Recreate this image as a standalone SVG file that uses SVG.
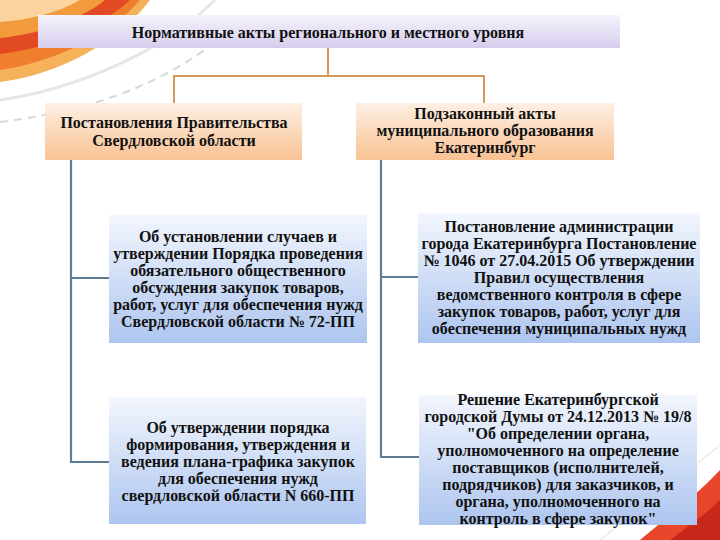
<svg xmlns="http://www.w3.org/2000/svg" width="720" height="540" viewBox="0 0 720 540">
<defs>
<linearGradient id="gLav" x1="0" y1="0" x2="0" y2="1"><stop offset="0" stop-color="#f6f3fb"/><stop offset="1" stop-color="#d6cdee"/></linearGradient>
<linearGradient id="gPeach" x1="0" y1="0" x2="0" y2="1"><stop offset="0" stop-color="#fdf0e4"/><stop offset="1" stop-color="#f9c293"/></linearGradient>
<linearGradient id="gBlue" x1="0" y1="0" x2="0" y2="1"><stop offset="0" stop-color="#f2f6fd"/><stop offset="1" stop-color="#adc5ef"/></linearGradient>
<style>
text{font-family:'Liberation Serif','Times New Roman','DejaVu Serif',serif;font-weight:700;font-size:16px;fill:#111;text-anchor:middle}
.oc{stroke:#d49a5c;stroke-width:2;fill:none}
.bc{stroke:#5f7d96;stroke-width:2.2;fill:none}
</style>
</defs>
<rect width="720" height="540" fill="#ffffff"/>
<g id="decor">
<path d="M0,0 L150,0 C120,40 60,75 0,82 Z" fill="#f6b25a"/>
<path d="M0,0 L140,0 C110,35 55,62 0,70 Z" fill="#ef7f2c"/>
<path d="M0,0 L130,0 C100,28 50,48 0,54 Z" fill="#e14a22"/>
<path d="M0,0 L105,0 C80,20 40,34 0,38 Z" fill="#f39a3c"/>
<path d="M0,0 L80,0 C60,12 30,20 0,22 Z" fill="#fbd39c"/>
<path d="M0,100 C70,90 160,55 215,0" stroke="#e6e6e6" stroke-width="3" fill="none"/>
<path d="M0,122 C80,112 160,90 230,30" stroke="#d8d8d8" stroke-width="2" stroke-dasharray="8 6" fill="none"/>
<path d="M640,540 C670,515 700,492 720,470 L720,540 Z" fill="#e8452a"/>
<path d="M670,540 C690,525 708,512 720,500 L720,540 Z" fill="#c8281a"/>
<path d="M600,540 C650,500 690,470 720,445" stroke="#eeeeee" stroke-width="2" fill="none"/>
</g>
<g id="connectors">
<path class="oc" d="M328,48 V76 M174,76 H484 M174,75 V103 M484,75 V103"/>
<path class="bc" d="M71,160 V462 H109 M71,278 H109"/>
<path class="bc" d="M381,160 V457 H419 M381,277 H418"/>
</g>
<g id="n0">
<rect x="38" y="15" width="582" height="33" fill="url(#gLav)"/>
<text x="328" y="38">Нормативные акты регионального и местного уровня</text>
</g>
<g id="n1">
<rect x="45" y="103" width="257" height="57" fill="url(#gPeach)"/>
<text x="174" y="128">Постановления Правительства</text>
<text x="174" y="146">Свердловской области</text>
</g>
<g id="n2">
<rect x="356" y="103" width="258" height="57" fill="url(#gPeach)"/>
<text x="485" y="119">Подзаконный акты</text>
<text x="485" y="136">муниципального образования</text>
<text x="485" y="153">Екатеринбург</text>
</g>
<g id="n3">
<rect x="109" y="215" width="258" height="128" fill="url(#gBlue)"/>
<text x="238" y="242">Об установлении случаев и</text>
<text x="238" y="259">утверждении Порядка проведения</text>
<text x="238" y="276">обязательного общественного</text>
<text x="238" y="293">обсуждения закупок товаров,</text>
<text x="238" y="310">работ, услуг для обеспечения нужд</text>
<text x="238" y="327">Свердловской области № 72-ПП</text>
</g>
<g id="n4">
<rect x="418" y="213" width="282" height="130" fill="url(#gBlue)"/>
<text x="559" y="232">Постановление администрации</text>
<text x="559" y="249">города Екатеринбурга Постановление</text>
<text x="559" y="266">№ 1046 от 27.04.2015 Об утверждении</text>
<text x="559" y="283">Правил осуществления</text>
<text x="559" y="300">ведомственного контроля в сфере</text>
<text x="559" y="317">закупок товаров, работ, услуг для</text>
<text x="559" y="334">обеспечения муниципальных нужд</text>
</g>
<g id="n5">
<rect x="109" y="397" width="257" height="127" fill="url(#gBlue)"/>
<text x="238" y="433">Об утверждении порядка</text>
<text x="238" y="450">формирования, утверждения и</text>
<text x="238" y="467">ведения плана-графика закупок</text>
<text x="238" y="484">для обеспечения нужд</text>
<text x="238" y="501">свердловской области N 660-ПП</text>
</g>
<g id="n6">
<rect x="419" y="395" width="278" height="130" fill="url(#gBlue)"/>
<text x="558" y="405">Решение Екатеринбургской</text>
<text x="558" y="422">городской Думы от 24.12.2013 № 19/8</text>
<text x="558" y="439">"Об определении органа,</text>
<text x="558" y="456">уполномоченного на определение</text>
<text x="558" y="473">поставщиков (исполнителей,</text>
<text x="558" y="490">подрядчиков) для заказчиков, и</text>
<text x="558" y="507">органа, уполномоченного на</text>
<text x="558" y="524">контроль в сфере закупок"</text>
</g>
</svg>
